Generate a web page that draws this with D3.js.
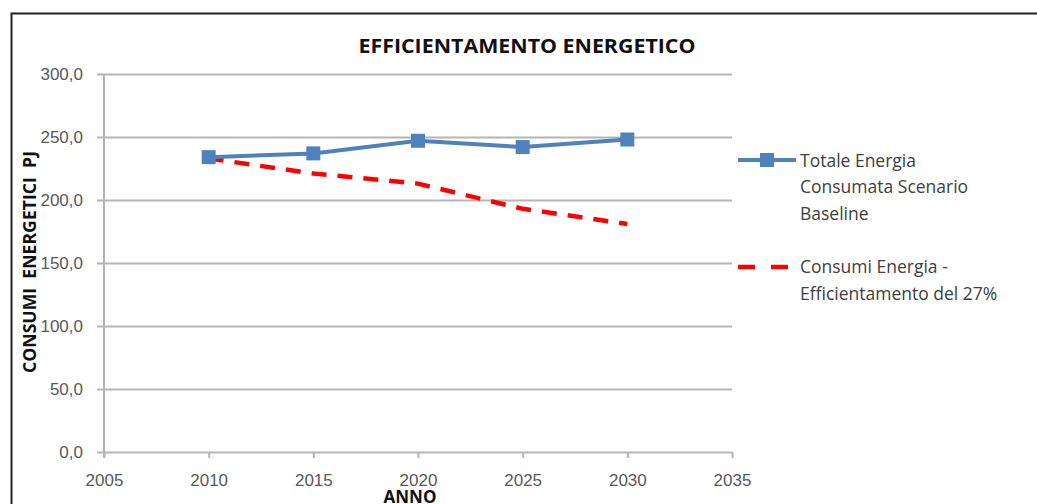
<!DOCTYPE html>
<html>
<head>
<meta charset="utf-8">
<script src="https://cdn.jsdelivr.net/npm/d3@7"></script>
<style>
  html, body { margin: 0; padding: 0; background: #fff; }
  svg { display: block; font-family: 'Open Sans', sans-serif; }
</style>
</head>
<body>
<div id="chart"></div>
<script>
const years = [2010, 2015, 2020, 2025, 2030]
const baseline = [234, 237, 247, 242, 248]
const efficient = [233, 221, 213, 193, 181]
const xTicks = [2005, 2010, 2015, 2020, 2025, 2030, 2035]
const yTicks = [0, 50, 100, 150, 200, 250, 300]
const seriesNames = [
  ['Totale Energia', 'Consumata Scenario', 'Baseline'],
  ['Consumi Energia -', 'Efficientamento del 27%']
]

const W = 1037
const H = 504
const margin = { top: 74, right: 305, bottom: 52, left: 104 }
const colors = {
  blue: '#4F81BD',
  red: '#FF0000',
  grid: '#B5B5B5',
  tick: '#595959',
  text: '#111'
}

const svg = d3.select('#chart').append('svg').attr('width', W).attr('height', H)

// cadre
svg.append('rect')
  .attr('x', 11.5).attr('y', 13.5)
  .attr('width', W + 20).attr('height', H + 20)
  .attr('fill', 'none').attr('stroke', '#222').attr('stroke-width', 2)

const x = d3.scaleLinear().domain([2005, 2035]).range([margin.left, W - margin.right])
const y = d3.scaleLinear().domain([0, 300]).range([H - margin.bottom, margin.top])

// griglia + asse Y
svg.append('g')
  .attr('transform', `translate(${margin.left},0)`)
  .call(d3.axisLeft(y).tickValues(yTicks).tickSize(7).tickPadding(14)
    .tickFormat((d) => d3.format('.1f')(d).replace('.', ',')))
  .call((g) => {
    g.select('.domain').attr('stroke', colors.grid).attr('stroke-width', 2)
      .attr('d', `M0,${y(0) + 6}V${y(300)}`)
    g.selectAll('.tick line').attr('stroke', colors.grid).attr('stroke-width', 2)
      .attr('x2', -7)
    g.selectAll('.tick').append('line')
      .attr('x1', 0).attr('x2', x(2035) - margin.left)
      .attr('stroke', colors.grid).attr('stroke-width', 2)
    g.selectAll('.tick text').style('fill', colors.tick).style('font-size', '17px')
  })

// asse X
svg.append('g')
  .attr('transform', `translate(0,${y(0)})`)
  .call(d3.axisBottom(x).tickValues(xTicks).tickSize(6).tickPadding(16).tickFormat(d3.format('d')))
  .call((g) => {
    g.select('.domain').remove()
    g.selectAll('.tick line').attr('stroke', colors.grid).attr('stroke-width', 2)
    g.selectAll('.tick text').style('fill', colors.tick).style('font-size', '17px')
  })

const line = d3.line().x((d, i) => x(years[i])).y((d) => y(d))

// serie efficientamento
svg.append('path')
  .datum(efficient)
  .attr('d', line)
  .attr('fill', 'none')
  .attr('stroke', colors.red)
  .attr('stroke-width', 4.5)
  .attr('stroke-dasharray', '15,11')

// serie baseline
svg.append('path')
  .datum(baseline)
  .attr('d', line)
  .attr('fill', 'none')
  .attr('stroke', colors.blue)
  .attr('stroke-width', 4)

svg.append('g').selectAll('rect')
  .data(baseline)
  .join('rect')
  .attr('x', (d, i) => x(years[i]) - 7)
  .attr('y', (d) => y(d) - 7)
  .attr('width', 14).attr('height', 14)
  .attr('fill', colors.blue)

// titolo
svg.append('text')
  .attr('x', 527).attr('y', 53)
  .attr('text-anchor', 'middle')
  .text('EFFICIENTAMENTO ENERGETICO')
  .style('font-size', '20px').style('font-weight', '700').style('fill', colors.text)
  .attr('textLength', 337).attr('lengthAdjust', 'spacingAndGlyphs')

// titoli assi
svg.append('text')
  .attr('transform', 'translate(36,262) rotate(-90)')
  .attr('text-anchor', 'middle')
  .text('CONSUMI  ENERGETICI  PJ')
  .style('font-size', '17px').style('font-weight', '700').style('fill', colors.text)
  .style('white-space', 'pre')
  .attr('textLength', 222).attr('lengthAdjust', 'spacingAndGlyphs')

svg.append('text')
  .attr('x', 410).attr('y', 503)
  .attr('text-anchor', 'middle')
  .text('ANNO')
  .style('font-size', '17px').style('font-weight', '700').style('fill', colors.text)

// legenda
const legend = svg.append('g').attr('transform', 'translate(738,0)')
legend.append('line')
  .attr('x1', 0).attr('x2', 58).attr('y1', 160).attr('y2', 160)
  .attr('stroke', colors.blue).attr('stroke-width', 4)
legend.append('rect')
  .attr('x', 22).attr('y', 153).attr('width', 14).attr('height', 14)
  .attr('fill', colors.blue)
legend.append('line')
  .attr('x1', 0).attr('x2', 58).attr('y1', 267).attr('y2', 267)
  .attr('stroke', colors.red).attr('stroke-width', 4.5)
  .attr('stroke-dasharray', '17,16')

const legendY = [[167, 193, 220], [273, 300]]
seriesNames.forEach((lines, s) => {
  lines.forEach((t, i) => {
    legend.append('text')
      .attr('x', 62).attr('y', legendY[s][i])
      .text(t)
      .style('font-size', '17.5px').style('fill', '#404040')
  })
})
</script>
</body>
</html>
